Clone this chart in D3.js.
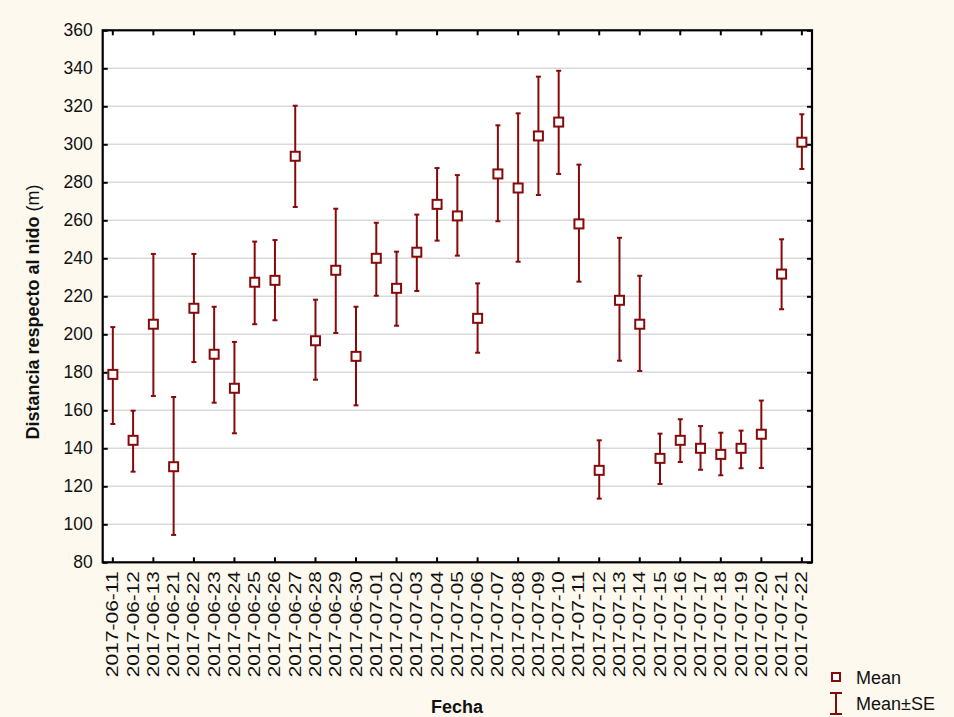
<!DOCTYPE html>
<html>
<head>
<meta charset="utf-8">
<script src="https://cdn.jsdelivr.net/npm/d3@7"></script>
<style>
  html, body { margin: 0; padding: 0; background: #fdf9ef; }
  svg { display: block; }
  text { font-family: "Liberation Sans", Arial, sans-serif; fill: #111; }
</style>
</head>
<body>
<svg id="chart" width="954" height="717"></svg>
<script>
// Daily mean distance to the nest with ±SE whiskers
const fechas = [
  "2017-06-11","2017-06-12","2017-06-13","2017-06-21","2017-06-22","2017-06-23",
  "2017-06-24","2017-06-25","2017-06-26","2017-06-27","2017-06-28","2017-06-29",
  "2017-06-30","2017-07-01","2017-07-02","2017-07-03","2017-07-04","2017-07-05",
  "2017-07-06","2017-07-07","2017-07-08","2017-07-09","2017-07-10","2017-07-11",
  "2017-07-12","2017-07-13","2017-07-14","2017-07-15","2017-07-16","2017-07-17",
  "2017-07-18","2017-07-19","2017-07-20","2017-07-21","2017-07-22"
];
const media = [
  178.9, 144.2, 205.3, 130.3, 213.7, 189.5, 171.6, 227.4, 228.4, 293.7, 196.6, 233.7,
  188.4, 240.0, 224.2, 243.2, 268.4, 262.3, 208.4, 284.4, 277.0, 304.4, 311.7, 258.1,
  128.4, 217.9, 205.3, 134.7, 144.2, 140.0, 136.8, 140.0, 147.4, 231.7, 301.1
];
const mediaMasSE = [
  203.8, 159.8, 242.3, 167.0, 242.3, 214.5, 196.0, 248.8, 249.6, 320.3, 218.2, 266.1,
  214.5, 258.7, 243.5, 263.0, 287.5, 283.8, 226.8, 310.0, 316.3, 335.6, 338.7, 289.3,
  144.2, 250.8, 230.8, 147.7, 155.3, 151.7, 148.2, 149.3, 165.1, 250.0, 315.8
];
const mediaMenosSE = [
  152.8, 127.7, 167.5, 94.4, 185.4, 164.0, 147.9, 205.3, 207.4, 267.0, 176.1, 200.7,
  162.6, 220.3, 204.5, 222.8, 249.3, 241.4, 190.3, 259.5, 238.2, 273.3, 284.4, 227.7,
  113.5, 186.1, 180.7, 121.2, 132.8, 128.7, 125.8, 129.5, 129.6, 213.2, 287.0
];
const yTicks = [80, 100, 120, 140, 160, 180, 200, 220, 240, 260, 280, 300, 320, 340, 360];

const rojo = "#870a0a";
const margin = { left: 102.7, top: 30.3, right: 812, bottom: 562.3 };

const svg = d3.select("#chart");

const x = d3.scaleBand().domain(fechas).range([margin.left, margin.right]).padding(0);
const y = d3.scaleLinear().domain([80, 360]).range([margin.bottom, margin.top]);
const cx = d => x(d) + x.bandwidth() / 2;

// plot panel
svg.append("rect")
  .attr("x", margin.left).attr("y", margin.top)
  .attr("width", margin.right - margin.left).attr("height", margin.bottom - margin.top)
  .attr("fill", "#ffffff");

// horizontal gridlines
svg.append("g").selectAll("line")
  .data(yTicks.filter(v => v > 80 && v < 360))
  .join("line")
  .attr("x1", margin.left).attr("x2", margin.right)
  .attr("y1", d => y(d)).attr("y2", d => y(d))
  .attr("stroke", "#d9d9d9").attr("stroke-width", 1.5);

// left axis with inward ticks, labels outside
const yAxisL = svg.append("g")
  .attr("transform", `translate(${margin.left},0)`)
  .call(d3.axisLeft(y).tickValues(yTicks).tickSize(-5).tickPadding(10));
yAxisL.selectAll("text").attr("font-size", "17.5px").attr("fill", "#111");

// right axis: inward ticks only
const yAxisR = svg.append("g")
  .attr("transform", `translate(${margin.right},0)`)
  .call(d3.axisRight(y).tickValues(yTicks).tickSize(-5).tickFormat(""));

// bottom and top axes: inward ticks at every other date
const evenDates = fechas.filter((d, i) => i % 2 === 0);
const xAxisB = svg.append("g")
  .attr("transform", `translate(0,${margin.bottom})`)
  .call(d3.axisBottom(x).tickValues(evenDates).tickSize(-5).tickFormat(""));
const xAxisT = svg.append("g")
  .attr("transform", `translate(0,${margin.top})`)
  .call(d3.axisTop(x).tickValues(evenDates).tickSize(-5).tickFormat(""));

[yAxisL, yAxisR, xAxisB, xAxisT].forEach(g => {
  g.select(".domain").remove();
  g.selectAll(".tick line").attr("stroke", "#000").attr("stroke-width", 2);
});

// rotated date labels (wide glyphs)
svg.append("g").selectAll("text")
  .data(fechas)
  .join("text")
  .attr("transform", d => `translate(${cx(d) + 5.5},${margin.bottom + 9}) rotate(-90)`)
  .attr("text-anchor", "end")
  .attr("font-size", "17px")
  .attr("textLength", 106)
  .attr("lengthAdjust", "spacingAndGlyphs")
  .text(d => d);

// frame
svg.append("rect")
  .attr("x", margin.left).attr("y", margin.top)
  .attr("width", margin.right - margin.left).attr("height", margin.bottom - margin.top)
  .attr("fill", "none").attr("stroke", "#000").attr("stroke-width", 2.2);

// error bars
const pts = fechas.map((f, i) => ({ f, m: media[i], hi: mediaMasSE[i], lo: mediaMenosSE[i] }));
const eb = svg.append("g").attr("stroke", rojo).attr("stroke-width", 2);
eb.selectAll("line.v").data(pts).join("line").attr("class", "v")
  .attr("x1", d => cx(d.f)).attr("x2", d => cx(d.f))
  .attr("y1", d => y(d.hi)).attr("y2", d => y(d.lo));
eb.selectAll("line.hi").data(pts).join("line").attr("class", "hi")
  .attr("x1", d => cx(d.f) - 2.5).attr("x2", d => cx(d.f) + 2.5)
  .attr("y1", d => y(d.hi)).attr("y2", d => y(d.hi));
eb.selectAll("line.lo").data(pts).join("line").attr("class", "lo")
  .attr("x1", d => cx(d.f) - 2.5).attr("x2", d => cx(d.f) + 2.5)
  .attr("y1", d => y(d.lo)).attr("y2", d => y(d.lo));

// mean markers
svg.append("g").selectAll("rect").data(pts).join("rect")
  .attr("x", d => cx(d.f) - 4.5).attr("y", d => y(d.m) - 4.5)
  .attr("width", 9).attr("height", 9)
  .attr("fill", "#fff").attr("stroke", rojo).attr("stroke-width", 2);

// axis titles
const yTitle = svg.append("text")
  .attr("transform", `translate(39,312) rotate(-90)`)
  .attr("text-anchor", "middle")
  .attr("font-size", "18px");
yTitle.append("tspan").attr("font-weight", "bold").text("Distancia respecto al nido ");
yTitle.append("tspan").text("(m)");

svg.append("text")
  .attr("x", 457).attr("y", 713)
  .attr("text-anchor", "middle")
  .attr("font-size", "18px").attr("font-weight", "bold")
  .text("Fecha");

// legend
const lg = svg.append("g");
lg.append("rect").attr("x", 832).attr("y", 673).attr("width", 8).attr("height", 8)
  .attr("fill", "#fff").attr("stroke", rojo).attr("stroke-width", 2);
lg.append("text").attr("x", 856).attr("y", 684).attr("font-size", "18px").text("Mean");
lg.append("line").attr("x1", 836).attr("x2", 836).attr("y1", 693).attr("y2", 714)
  .attr("stroke", rojo).attr("stroke-width", 2);
lg.append("line").attr("x1", 830).attr("x2", 842).attr("y1", 693).attr("y2", 693)
  .attr("stroke", rojo).attr("stroke-width", 2);
lg.append("line").attr("x1", 830).attr("x2", 842).attr("y1", 714).attr("y2", 714)
  .attr("stroke", rojo).attr("stroke-width", 2);
lg.append("text").attr("x", 856).attr("y", 710).attr("font-size", "18px").text("Mean±SE");
</script>
</body>
</html>
